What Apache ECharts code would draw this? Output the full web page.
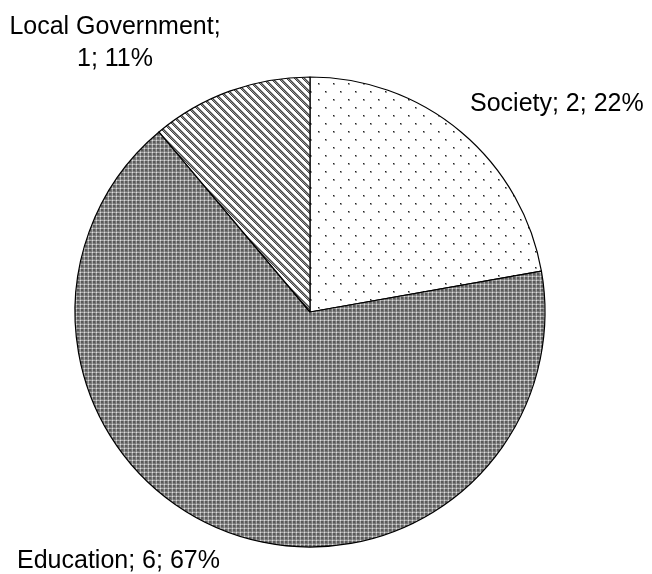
<!DOCTYPE html>
<html>
<head>
<meta charset="utf-8">
<script src="https://cdn.jsdelivr.net/npm/echarts@6/dist/echarts.min.js"></script>
<style>
html,body{margin:0;padding:0;background:#fff;}
#chart{width:652px;height:574px;}
</style>
</head>
<body>
<div id="chart"></div>
<script>
// Data
var categories = ['Society', 'Education', 'Local Government'];
var values = [2, 6, 1];
var percentLabels = ['22%', '67%', '11%'];

function makeTile(w, h, fn) {
  var c = document.createElement('canvas');
  c.width = w; c.height = h;
  var ctx = c.getContext('2d');
  fn(ctx, w, h);
  return c;
}
// Society: sparse dots on white
var dotTile = makeTile(15, 16, function (ctx, w, h) {
  ctx.fillStyle = '#fff'; ctx.fillRect(0, 0, w, h);
  ctx.fillStyle = '#9a9a9a';
  ctx.fillRect(3, 3, 2, 2); ctx.fillRect(10, 11, 2, 2);
  ctx.fillStyle = '#222';
  ctx.fillRect(3, 3, 1, 1); ctx.fillRect(10, 11, 1, 1);
});
// Education: dense grey crosshatch
var gridTile = makeTile(4, 4, function (ctx, w, h) {
  ctx.fillStyle = '#777'; ctx.fillRect(0, 0, w, h);
  ctx.fillStyle = '#5a5a5a'; ctx.fillRect(1, 1, 2, 2);
  ctx.fillStyle = '#a8a8a8'; ctx.fillRect(0, 0, 4, 1); ctx.fillRect(0, 0, 1, 4);
  ctx.fillStyle = '#e0e0e0'; ctx.fillRect(0, 0, 1, 1);
});
// Local Government: downward diagonal stripes
var stripeTile = makeTile(8, 8, function (ctx, w, h) {
  ctx.fillStyle = '#fff'; ctx.fillRect(0, 0, w, h);
  for (var y = 0; y < h; y++) {
    for (var x = 0; x < w; x++) {
      var d = ((x - y) % 8 + 8) % 8;
      if (d < 4) {
        ctx.fillStyle = ((x + y) % 2 === 0) ? '#444' : '#9a9a9a';
        ctx.fillRect(x, y, 1, 1);
      }
    }
  }
});

var fills = [
  { image: dotTile, repeat: 'repeat' },
  { image: gridTile, repeat: 'repeat' },
  { image: stripeTile, repeat: 'repeat' }
];
var labelSpots = [
  { x: 470, y: 104, align: 'left', verticalAlign: 'middle' },
  { x: 17, y: 561, align: 'left', verticalAlign: 'middle' },
  { x: 115, y: 43, align: 'center', verticalAlign: 'middle' }
];

var seriesData = categories.map(function (name, i) {
  return { name: name, value: values[i], itemStyle: { color: fills[i] } };
});

var chart = echarts.init(document.getElementById('chart'), null, { renderer: 'canvas' });
chart.setOption({
  animation: false,
  backgroundColor: '#fff',
  series: [{
    type: 'pie',
    center: [310, 312],
    radius: 235,
    startAngle: 90,
    clockwise: true,
    data: seriesData,
    itemStyle: { borderColor: '#000', borderWidth: 1.2 },
    emphasis: { disabled: true },
    label: {
      show: true,
      position: 'outside',
      alignTo: 'none',
      overflow: 'none',
      width: 400,
      color: '#000',
      fontFamily: 'Liberation Sans, Arial, sans-serif',
      fontSize: 25,
      lineHeight: 32,
      formatter: function (p) {
        if (p.dataIndex === 2) return p.name + ';\n' + p.value + '; ' + percentLabels[p.dataIndex];
        return p.name + '; ' + p.value + '; ' + percentLabels[p.dataIndex];
      }
    },
    labelLine: { show: false },
    labelLayout: function (params) {
      var s = labelSpots[params.dataIndex];
      return { x: s.x, y: s.y, align: s.align, verticalAlign: s.verticalAlign, hideOverlap: false, moveOverlap: null };
    }
  }]
});
</script>
</body>
</html>
